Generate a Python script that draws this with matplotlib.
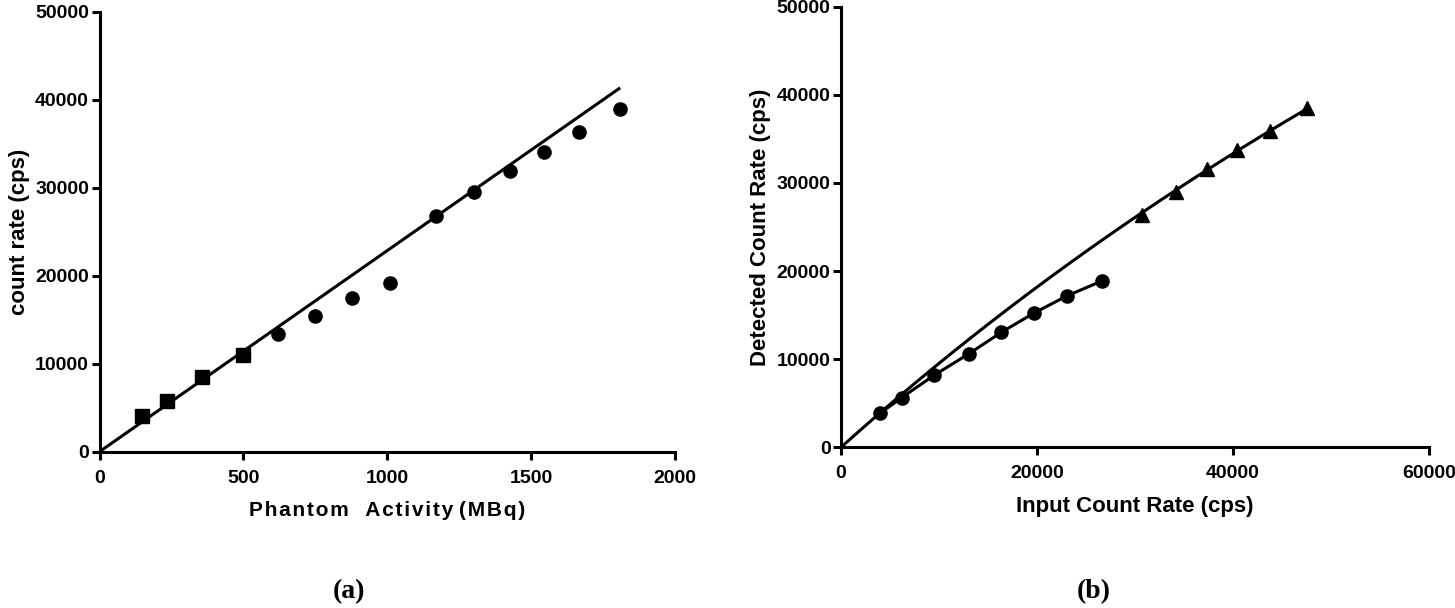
import numpy as np
import matplotlib.pyplot as plt

# Panel (a): count rate vs phantom activity
act_sq = [149, 236, 357, 497]
rate_sq = [4060, 5800, 8450, 10990]
act_ci = [622, 750, 879, 1010, 1169, 1303, 1428, 1546, 1668, 1810]
rate_ci = [13340, 15450, 17430, 19130, 26820, 29480, 31950, 34090, 36300, 38940]
fit_slope = 22.85      # cps per MBq, linear fit
fit_end = 1805

# Panel (b): detected vs input count rate
inp_ci = [3980, 6190, 9490, 13060, 16360, 19700, 23030, 26630]
det_ci = [3860, 5630, 8170, 10620, 13050, 15240, 17170, 18880]
inp_tr = [30680, 34150, 37380, 40440, 43780, 47520]
det_tr = [26370, 29010, 31550, 33750, 35900, 38550]
dead_time = 5.0e-6     # s, non-paralysable fit

plt.rcParams['font.family'] = ['Liberation Sans', 'DejaVu Sans']
plt.rcParams['font.weight'] = 'bold'

fig = plt.figure(figsize=(14.55, 6.08), dpi=100)
ax1 = fig.add_axes([0.0684, 0.2571, 0.3955, 0.7237])
ax2 = fig.add_axes([0.5780, 0.2643, 0.4041, 0.7247])

lw = 2.2


def style(ax):
    for s in ['top', 'right']:
        ax.spines[s].set_visible(False)
    for s in ['left', 'bottom']:
        ax.spines[s].set_linewidth(lw)
    ax.tick_params(width=lw, length=6, labelsize=14)
    ax.tick_params(axis='x', pad=7)
    ax.tick_params(axis='y', pad=1.5)
    for lab in ax.get_xticklabels() + ax.get_yticklabels():
        lab.set_fontweight('bold')


# (a)
xs = np.array([0, fit_end])
ax1.plot(xs, fit_slope * xs, color='black', lw=lw)
ax1.plot(act_sq, rate_sq, 's', color='black', ms=10)
ax1.plot(act_ci, rate_ci, 'o', color='black', ms=9.5)
ax1.set_xlim(0, 2000)
ax1.set_ylim(0, 50000)
ax1.set_xticks([0, 500, 1000, 1500, 2000])
ax1.set_yticks(range(0, 50001, 10000))
style(ax1)
spaced = '\u200a'.join('Phantom') + '   ' + '\u200a'.join('Activity') + ' ' + '\u200a'.join('(MBq)')
ax1.set_xlabel(spaced, fontsize=15, fontweight='bold', labelpad=10)
ax1.set_ylabel('count rate (cps)', fontsize=16, fontweight='bold', labelpad=4)

# (b)
xc = np.linspace(0, max(inp_tr), 200)
ax2.plot(xc, xc / (1 + xc * dead_time), color='black', lw=lw)
ax2.plot(inp_tr, det_tr, '^', color='black', ms=9.5)
ax2.plot(inp_ci, det_ci, 'o-', color='black', ms=9.5, lw=lw)
ax2.set_xlim(0, 60000)
ax2.set_ylim(0, 50000)
ax2.set_xticks([0, 20000, 40000, 60000])
ax2.set_yticks(range(0, 50001, 10000))
style(ax2)
ax2.set_xlabel('Input Count Rate (cps)', fontsize=16, fontweight='bold', labelpad=10)
ax2.set_ylabel('Detected Count Rate (cps)', fontsize=16, fontweight='bold', labelpad=4)

fig.text(0.2399, 0.016, '(a)', family=['Liberation Serif'], fontweight='bold', fontsize=20, ha='center')
fig.text(0.7519, 0.016, '(b)', family=['Liberation Serif'], fontweight='bold', fontsize=20, ha='center')

fig.savefig('out.png', dpi=100)
